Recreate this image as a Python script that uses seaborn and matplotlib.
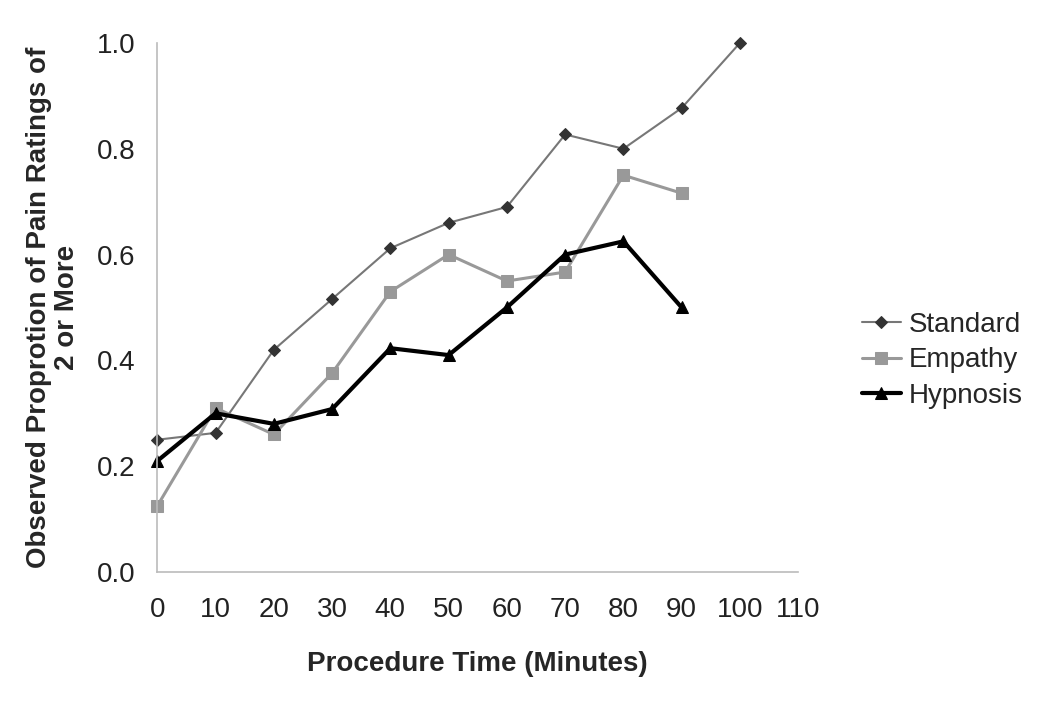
import numpy as np
import pandas as pd
import matplotlib
matplotlib.use("Agg")
import matplotlib.pyplot as plt
import seaborn as sns

# Data
time_std = [0, 10, 20, 30, 40, 50, 60, 70, 80, 90, 100]
standard = [0.25, 0.263, 0.42, 0.516, 0.612, 0.66, 0.69, 0.827, 0.80, 0.877, 1.0]

time_emp = [0, 10, 20, 30, 40, 50, 60, 70, 80, 90]
empathy = [0.125, 0.31, 0.26, 0.376, 0.53, 0.60, 0.55, 0.567, 0.75, 0.716]

time_hyp = [0, 10, 20, 30, 40, 50, 60, 70, 80, 90]
hypnosis = [0.21, 0.30, 0.28, 0.308, 0.423, 0.41, 0.50, 0.60, 0.625, 0.50]

x_ticks = [0, 10, 20, 30, 40, 50, 60, 70, 80, 90, 100, 110]
y_ticks = [0.0, 0.2, 0.4, 0.6, 0.8, 1.0]

sns.set_theme(style="white")
plt.rcParams['font.family'] = ['Liberation Sans', 'DejaVu Sans']

fig = plt.figure(figsize=(10.42, 7.04), dpi=100)
ax = fig.add_axes([0.151, 0.1875, 0.615, 0.7515])

sns.lineplot(x=time_std, y=standard, ax=ax, color="#777777", linewidth=1.5,
             marker="D", markersize=6, markerfacecolor="#333333",
             markeredgecolor="#333333", label="Standard")
sns.lineplot(x=time_emp, y=empathy, ax=ax, color="#999999", linewidth=2.2,
             marker="s", markersize=8, markerfacecolor="#999999",
             markeredgecolor="#999999", label="Empathy")
sns.lineplot(x=time_hyp, y=hypnosis, ax=ax, color="black", linewidth=3,
             marker="^", markersize=9, markerfacecolor="black",
             markeredgecolor="black", label="Hypnosis")

ax.set_xlim(0, 110)
ax.set_ylim(0, 1.0)
ax.set_xticks(x_ticks)
ax.set_yticks(y_ticks)
ax.set_yticklabels([f"{v:.1f}" for v in y_ticks])
ax.tick_params(axis="both", labelsize=20, colors="#222222", length=6,
               width=1, direction="out", color="#bbbbbb")
ax.tick_params(axis="x", pad=12)
ax.tick_params(axis="y", pad=10)

sns.despine(ax=ax)
for side in ["left", "bottom"]:
    ax.spines[side].set_color("#bbbbbb")
    ax.spines[side].set_linewidth(1.2)
for line in ax.lines:
    line.set_clip_on(False)

ax.set_xlabel("Procedure Time (Minutes)", fontsize=20, fontweight="bold", labelpad=20)
ax.set_ylabel("Observed Proprotion of Pain Ratings of\n2 or More", fontsize=20,
              fontweight="bold", labelpad=12, linespacing=1.1)

ax.legend(loc="center left", bbox_to_anchor=(1.06, 0.40), frameon=False,
          fontsize=20, handlelength=1.4, handletextpad=0.3, labelspacing=0.35)

fig.savefig("out.png", dpi=100)
